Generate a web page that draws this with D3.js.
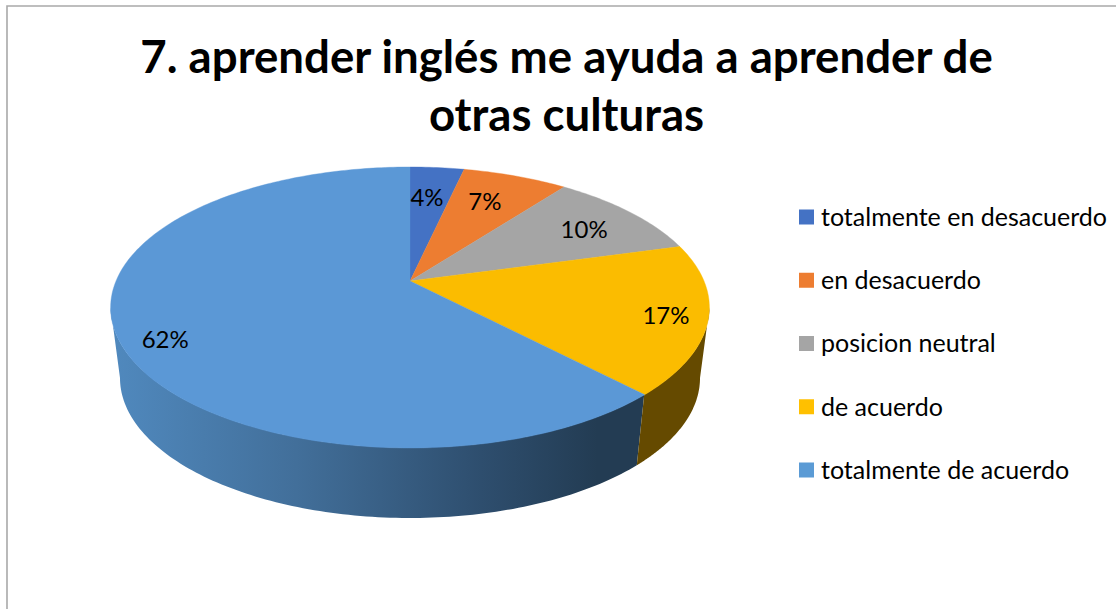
<!DOCTYPE html>
<html><head><meta charset="utf-8">
<script src="https://cdnjs.cloudflare.com/ajax/libs/d3/7.8.5/d3.min.js"></script>
<style>html,body{margin:0;padding:0;background:#fff}svg{display:block}text{font-family:Lato,Carlito,sans-serif;fill:#000}</style>
</head><body><svg id="c" width="1116" height="609"></svg>
<script>
const titleLines = ["7. aprender inglés me ayuda a aprender de", "otras culturas"];
const categories = ["totalmente en desacuerdo", "en desacuerdo", "posicion neutral", "de acuerdo", "totalmente de acuerdo"];
const values = [3.5, 6.8, 10.4, 17.2, 62.1];
const colors = ["#4472C4", "#ED7D31", "#A5A5A5", "#FBBC00", "#5B98D6"];
const legendColors = ["#4472C4", "#ED7D31", "#A5A5A5", "#FFC000", "#5B9BD5"];
// label placement inside the disc: position around the circle (percent) and radius (fraction)
const labelTurn = [1.5, 6.56, 16.0, 29.6, 67.4];
const labelRadius = [0.696, 0.715, 0.755, 0.866, 0.867];

const svg = d3.select("#c");
const cx = 410, apexY = 281, k = -0.1886, a = 82.5, c = 294;
const top0 = {cy: 307, rx: 299.5, ry: 140.5}, low = {cy: 378, rx: 290, ry: 140};
const project = (ang, r = 1) => {
  const u = r * Math.sin(ang), v = -r * Math.cos(ang), w = 1 + k * v;
  return [cx + c * u / w, (apexY + a * v) / w];
};
const thetaOf = p => Math.atan2((p[1] - top0.cy) / top0.ry, (p[0] - cx) / top0.rx);
const lower = th => [cx + low.rx * Math.cos(th), low.cy + low.ry * Math.sin(th)];
const upper = th => [cx + top0.rx * Math.cos(th), top0.cy + top0.ry * Math.sin(th)];
const turn = d3.scaleLinear().domain([0, 100]).range([0, 2 * Math.PI]);
const arcs = d3.pie().sort(null).value(d => d)(values);
const line = d3.line();

// frame
svg.append("path").attr("d", line([[7, 609], [7, 6], [1116, 6]]))
  .attr("fill", "none").attr("stroke", "#a9a9a9").attr("stroke-width", 1.6);

// gradient for the side wall
const defs = svg.append("defs");
const grad = defs.append("linearGradient").attr("id", "wall").attr("gradientUnits", "userSpaceOnUse")
  .attr("x1", 111).attr("x2", 640).attr("y1", 0).attr("y2", 0);
[[0, "#5089BE"], [0.35, "#426F9A"], [0.7, "#2E4E6E"], [0.92, "#233C53"], [1, "#233C53"]]
  .forEach(s => grad.append("stop").attr("offset", s[0]).attr("stop-color", s[1]));

// walls
const wallFrom = thetaOf(project(arcs[3].endAngle));
const wallRange = [
  {from: wallFrom, to: Math.PI, fill: "url(#wall)"},
  {from: 0, to: wallFrom, fill: "#654A00"}
];
wallRange.forEach(w => {
  const ts = d3.range(0, 121).map(i => w.from + (w.to - w.from) * i / 120);
  const pts = ts.map(upper).concat(ts.slice().reverse().map(lower));
  svg.append("path").attr("d", line(pts) + "Z").attr("fill", w.fill);
});

// top face
svg.selectAll("path.slice").data(arcs).join("path").attr("class", "slice")
  .attr("d", d => {
    const n = Math.max(2, Math.ceil((d.endAngle - d.startAngle) * 60));
    const pts = d3.range(n + 1).map(i => project(d.startAngle + (d.endAngle - d.startAngle) * i / n));
    return line([[cx, apexY], ...pts]) + "Z";
  })
  .attr("fill", (d, i) => colors[i]).attr("stroke", (d, i) => colors[i]).attr("stroke-width", 0.4);

// labels
svg.selectAll("text.lab").data(values).join("text").attr("class", "lab")
  .each(function (d, i) {
    const p = project(turn(labelTurn[i]), labelRadius[i]);
    d3.select(this).attr("x", p[0]).attr("y", p[1]).attr("dy", "0.35em");
  })
  .attr("text-anchor", "middle").attr("font-size", 24)
  .text(d => Math.round(d) + "%");

// title
svg.selectAll("text.title").data(titleLines).join("text").attr("class", "title")
  .attr("x", 566.5).attr("y", (d, i) => 73 + i * 58)
  .attr("text-anchor", "middle").attr("font-size", 45.6).attr("font-weight", 700)
  .text(d => d);

// legend
const ly = d3.scalePoint().domain(categories).range([217, 470]);
const leg = svg.selectAll("g.leg").data(categories).join("g").attr("class", "leg")
  .attr("transform", d => `translate(799,${ly(d)})`);
leg.append("rect").attr("x", 0).attr("y", -7.5).attr("width", 15).attr("height", 15)
  .attr("fill", (d, i) => legendColors[i]);
leg.append("text").attr("x", 22).attr("dy", "0.35em").attr("font-size", 25).text(d => d);
</script></body></html>
